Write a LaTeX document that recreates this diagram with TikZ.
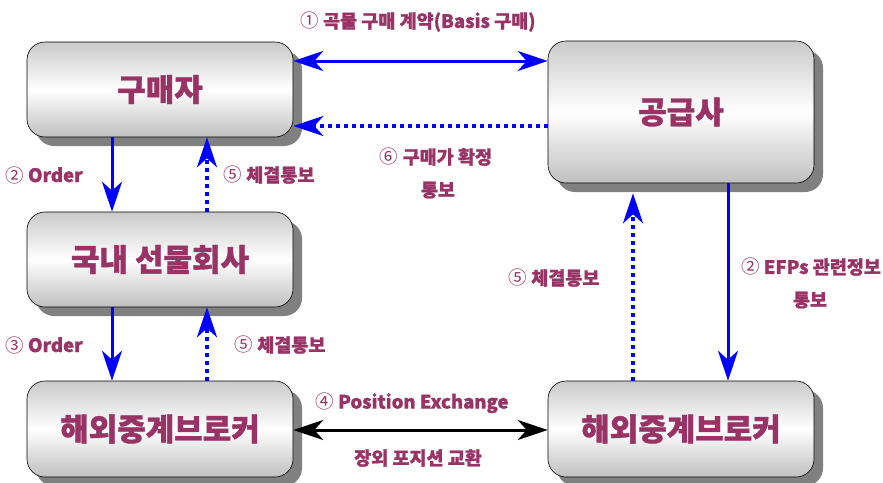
\documentclass[tikz,border=0pt]{standalone}
\usepackage{fontspec}
\setmainfont{Noto Sans CJK KR}[BoldFeatures={FakeBold=1.2}]
\usetikzlibrary{arrows.meta,shadows}
\definecolor{lblc}{RGB}{153,51,102}
\definecolor{shd}{RGB}{128,128,128}
\definecolor{blu}{RGB}{0,0,255}
\tikzset{
  box/.style={rectangle, rounded corners=18pt, draw=black, line width=0.6pt,
    minimum width=266pt, minimum height=95pt, inner sep=0pt,
    top color=gray!42, bottom color=gray!50, middle color=white,
    font=\fontsize{31}{31}\selectfont\bfseries, text=lblc,
    drop shadow={shadow xshift=9pt, shadow yshift=-9pt, fill=shd, opacity=1}},
  lab/.style={text=lblc, font=\fontsize{18.5}{18.5}\selectfont\bfseries, inner sep=0pt},
  sol/.style={draw=blu, line width=3pt},
  dot/.style={draw=blu, line width=4pt, dash pattern=on 4pt off 4pt},
  blk/.style={draw=black, line width=3pt}
}
\begin{document}
\begin{tikzpicture}[x=1pt,y=-1pt]
\path[fill=white] (0,0) rectangle (883,482);
\useasboundingbox (0,0) rectangle (883,482);

\node[box] (buyer) at (160,89.5) {구매자};
\node[box, minimum height=142pt] (supplier) at (681,112) {공급사};
\node[box] (domestic) at (160,259.5) {국내 선물회사};
\node[box, minimum height=96pt] (brokerL) at (160,429) {해외중계브로커};
\node[box, minimum height=96pt] (brokerR) at (681,429) {해외중계브로커};

% top connectors
\draw[sol, {Stealth[length=30pt,width=20pt,inset=9pt]}-{Stealth[length=30pt,width=20pt,inset=9pt]}]
  ([yshift=28.5pt]buyer.east) -- ([yshift=51pt]supplier.west);
\draw[dot, -{Stealth[length=30pt,width=20pt,inset=9pt]}]
  ([yshift=-14pt]supplier.west) -- ([yshift=-36.5pt]buyer.east);

% left column
\draw[sol, -{Stealth[length=30pt,width=20pt,inset=9pt]}]
  ([xshift=-48pt]buyer.south) -- ([xshift=-48pt]domestic.north);
\draw[dot, -{Stealth[length=30pt,width=20pt,inset=9pt]}]
  ([xshift=47pt]domestic.north) -- ([xshift=47pt]buyer.south);
\draw[sol, -{Stealth[length=30pt,width=20pt,inset=9pt]}]
  ([xshift=-48pt]domestic.south) -- ([xshift=-48pt]brokerL.north);
\draw[dot, -{Stealth[length=30pt,width=20pt,inset=9pt]}]
  ([xshift=47pt]brokerL.north) -- ([xshift=47pt]domestic.south);

% right column
\draw[sol, -{Stealth[length=30pt,width=20pt,inset=9pt]}]
  ([xshift=47pt]supplier.south) -- ([xshift=47pt]brokerR.north);
\draw[dot, -{Stealth[length=30pt,width=20pt,inset=9pt]}]
  ([xshift=-48pt]brokerR.north) -- ([xshift=-48pt,yshift=-10pt]supplier.south);

% bottom exchange
\draw[blk, {Stealth[length=30pt,width=20pt,inset=9pt]}-{Stealth[length=30pt,width=20pt,inset=9pt]}]
  ([yshift=-1pt]brokerL.east) -- ([yshift=-1pt]brokerR.west);

% labels
\node[lab] (l1) at (418,22) {{\mdseries ①} 곡물 구매 계약(Basis 구매)};
\node[lab] (l6a) at (436,157) {{\mdseries ⑥} 구매가 확정};
\node[lab] (l6b) at (438,190) {통보};
\node[lab] (l2) at (44,175) {{\mdseries ②} Order};
\node[lab] (l5a) at (269,175) {{\mdseries ⑤} 체결통보};
\node[lab] (l3) at (44,345) {{\mdseries ③} Order};
\node[lab] (l5b) at (280,345) {{\mdseries ⑤} 체결통보};
\node[lab] (l5c) at (554,278) {{\mdseries ⑤} 체결통보};
\node[lab] (l2b) at (811,267) {{\mdseries ②} EFPs 관련정보};
\node[lab] (l2c) at (810,300) {통보};
\node[lab] (l4) at (412,403) {{\mdseries ④} Position Exchange};
\node[lab] (l4b) at (418,458) {장외 포지션 교환};
\end{tikzpicture}
\end{document}
